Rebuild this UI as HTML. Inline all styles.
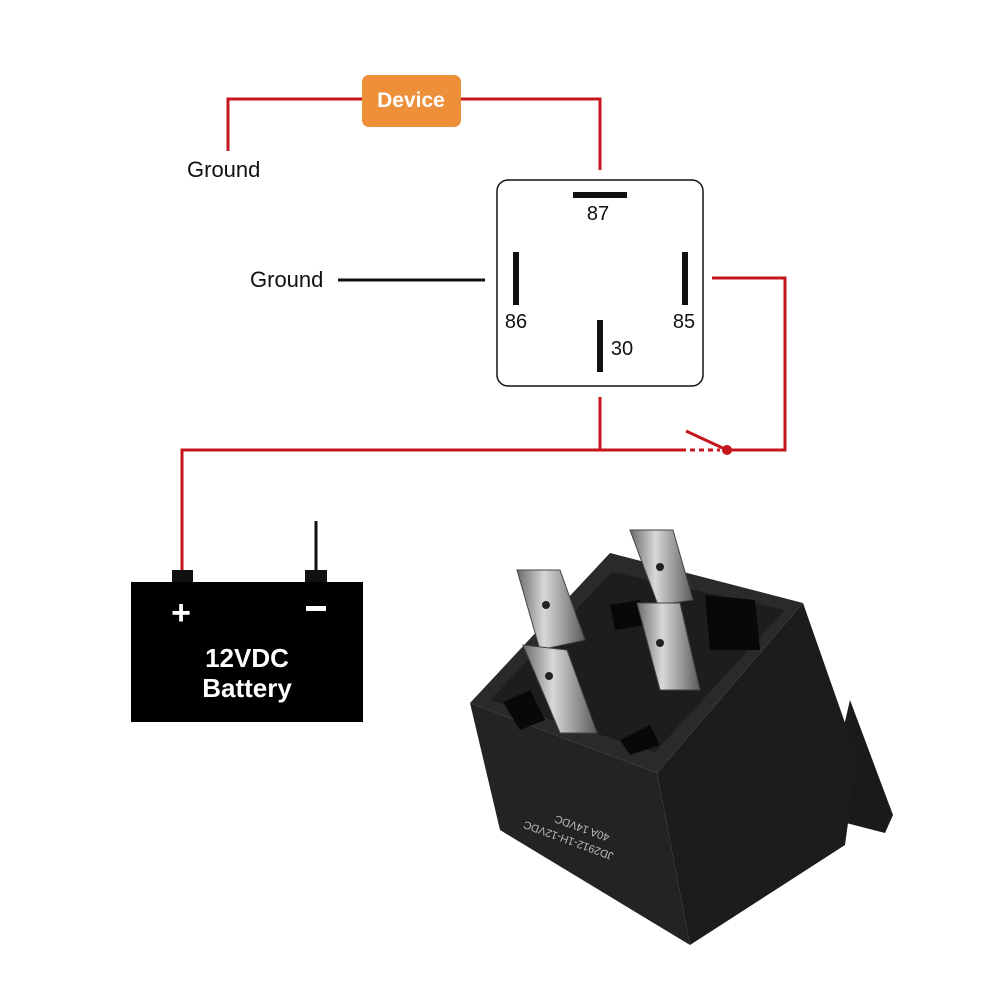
<!DOCTYPE html>
<html><head><meta charset="utf-8"><style>
html,body{margin:0;padding:0;background:#fff;}
svg{display:block}
</style></head><body>
<svg width="1000" height="1000" viewBox="0 0 1000 1000" xmlns="http://www.w3.org/2000/svg" font-family="Liberation Sans, sans-serif">
<defs>
<linearGradient id="m" x1="0" y1="0" x2="1" y2="0">
<stop offset="0" stop-color="#6a6a6a"/><stop offset="0.4" stop-color="#d8d8d8"/><stop offset="0.7" stop-color="#9a9a9a"/><stop offset="1" stop-color="#5a5a5a"/>
</linearGradient>
</defs>
<!-- red wires -->
<g stroke="#c4161c" stroke-width="3" fill="none">
<polyline points="228,151 228,99 362,99"/>
<polyline points="461,99 600,99 600,170"/>
<polyline points="712,278 785,278 785,450 727,450"/>
<line x1="600" y1="397" x2="600" y2="450"/>
<polyline points="686,450 182,450 182,570"/>
<line x1="686" y1="431" x2="727" y2="450"/>
<line x1="690" y1="450" x2="720" y2="450" stroke-dasharray="5,4"/>
</g>
<circle cx="727" cy="450" r="5" fill="#c4161c"/>
<!-- device -->
<rect x="362" y="75" width="99" height="52" rx="7" fill="#ee8f3a"/>
<text x="411" y="107" font-size="21" font-weight="bold" fill="#fff" text-anchor="middle">Device</text>
<text x="187" y="177" font-size="22" fill="#111">Ground</text>
<text x="250" y="287" font-size="22" fill="#111">Ground</text>
<line x1="338" y1="280" x2="485" y2="280" stroke="#111" stroke-width="3"/>
<!-- relay box -->
<rect x="497" y="180" width="206" height="206" rx="11" fill="#fff" stroke="#111" stroke-width="1.5"/>
<rect x="573" y="192" width="54" height="6" fill="#111"/>
<rect x="513" y="252" width="6" height="53" fill="#111"/>
<rect x="682" y="252" width="6" height="53" fill="#111"/>
<rect x="597" y="320" width="6" height="52" fill="#111"/>
<g font-size="20" fill="#111" text-anchor="middle">
<text x="598" y="220">87</text>
<text x="516" y="328">86</text>
<text x="684" y="328">85</text>
<text x="622" y="355">30</text>
</g>
<!-- battery -->
<line x1="316" y1="521" x2="316" y2="572" stroke="#111" stroke-width="3"/>
<rect x="172" y="570" width="21" height="14" fill="#111"/>
<rect x="305" y="570" width="22" height="14" fill="#111"/>
<rect x="131" y="582" width="232" height="140" fill="#000"/>
<g fill="#fff" font-weight="bold" text-anchor="middle">
<text x="181" y="624" font-size="34">+</text>
<rect x="306" y="606" width="20" height="5"/>
<text x="247" y="667" font-size="26">12VDC</text>
<text x="247" y="697" font-size="26">Battery</text>
</g>
<!-- relay photo -->
<polygon points="850,700 893,815 885,833 823,817" fill="#1a1a1a"/>
<polygon points="657,773 803,603 857,757 845,845 690,945" fill="#1c1c1c"/>
<polygon points="470,703 657,773 690,945 500,830" fill="#232323"/>
<polygon points="470,703 610,553 803,603 657,773" fill="#2a2a2a"/>
<polygon points="490,700 612,572 785,610 655,752" fill="#1d1d1d"/>
<g fill="#080808">
<polygon points="503,702 530,690 545,720 520,730"/>
<polygon points="610,605 640,600 645,625 615,630"/>
<polygon points="705,595 755,600 760,650 710,650"/>
<polygon points="620,740 650,725 660,745 630,755"/>
</g>
<g fill="url(#m)" stroke="#444" stroke-width="1">
<polygon points="517,570 560,570 585,640 540,650"/>
<polygon points="630,530 673,530 693,600 658,605"/>
<polygon points="637,603 680,603 700,690 660,690"/>
<polygon points="523,645 567,650 597,733 560,733"/>
</g>
<g fill="#222"><circle cx="546" cy="605" r="4"/><circle cx="660" cy="567" r="4"/><circle cx="660" cy="643" r="4"/><circle cx="549" cy="676" r="4"/></g>
<g fill="#bbb" font-size="11" transform="rotate(200 580 830)">
<text x="540" y="820">JD2912-1H-12VDC</text>
<text x="550" y="836">40A 14VDC</text>
</g>
</svg>
</body></html>
